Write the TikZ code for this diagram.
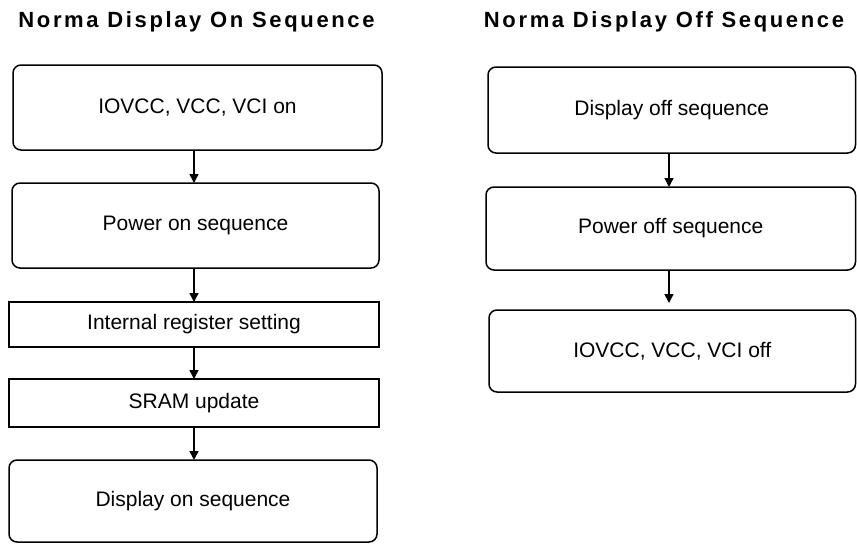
\documentclass[tikz,border=0pt]{standalone}
\usepackage{fontspec}
\setmainfont{Liberation Sans}
\usetikzlibrary{arrows.meta}
\begin{document}
\begin{tikzpicture}[x=1pt,y=-1pt,
  box/.style={draw,line width=1.5pt,inner sep=0pt,outer sep=0pt,
    font=\fontsize{21}{25}\selectfont},
  rbox/.style={box,rounded corners=8pt},
  arr/.style={line width=1.5pt,-{Triangle[width=9pt,length=9pt]}},
  ttl/.style={anchor=base,inner sep=0pt,
    font=\bfseries\addfontfeature{LetterSpace=12}\fontsize{22}{26}\selectfont}]
\useasboundingbox (0,0) rectangle (857,544);
\node[ttl] (tl) at (196.5,27) {Norma Display On Sequence};
\node[ttl] (tr) at (664,27) {Norma Display Off Sequence};
% left column
\node[rbox,minimum width=369pt,minimum height=85pt] (l1) at (197.5,107.5) {IOVCC, VCC, VCI on};
\node[rbox,minimum width=367pt,minimum height=85pt] (l2) at (195.5,225.5) {Power on sequence};
\node[box,minimum width=370pt,minimum height=45pt] (l3) at (194,324.5) {Internal register setting};
\node[box,minimum width=370pt,minimum height=48pt] (l4) at (194,403) {SRAM update};
\node[rbox,minimum width=368pt,minimum height=82pt] (l5) at (193,501) {Display on sequence};
% right column
\node[rbox,minimum width=367.5pt,minimum height=86pt] (r1) at (671.75,110) {Display off sequence};
\node[rbox,minimum width=369.5pt,minimum height=83pt] (r2) at (670.75,228.5) {Power off sequence};
\node[rbox,minimum width=366.5pt,minimum height=82pt] (r3) at (672.25,351) {IOVCC, VCC, VCI off};
\coordinate (xl) at (194,0);
\coordinate (xr) at (669,0);
\draw[arr] (l1.south -| xl) -- (l2.north -| xl);
\draw[arr] (l2.south -| xl) -- (l3.north -| xl);
\draw[arr] (l3.south -| xl) -- (l4.north -| xl);
\draw[arr] (l4.south -| xl) -- (l5.north -| xl);
\draw[arr] (r1.south -| xr) -- (r2.north -| xr);
\draw[arr,shorten >=7pt] (r2.south -| xr) -- (r3.north -| xr);
\end{tikzpicture}
\end{document}
